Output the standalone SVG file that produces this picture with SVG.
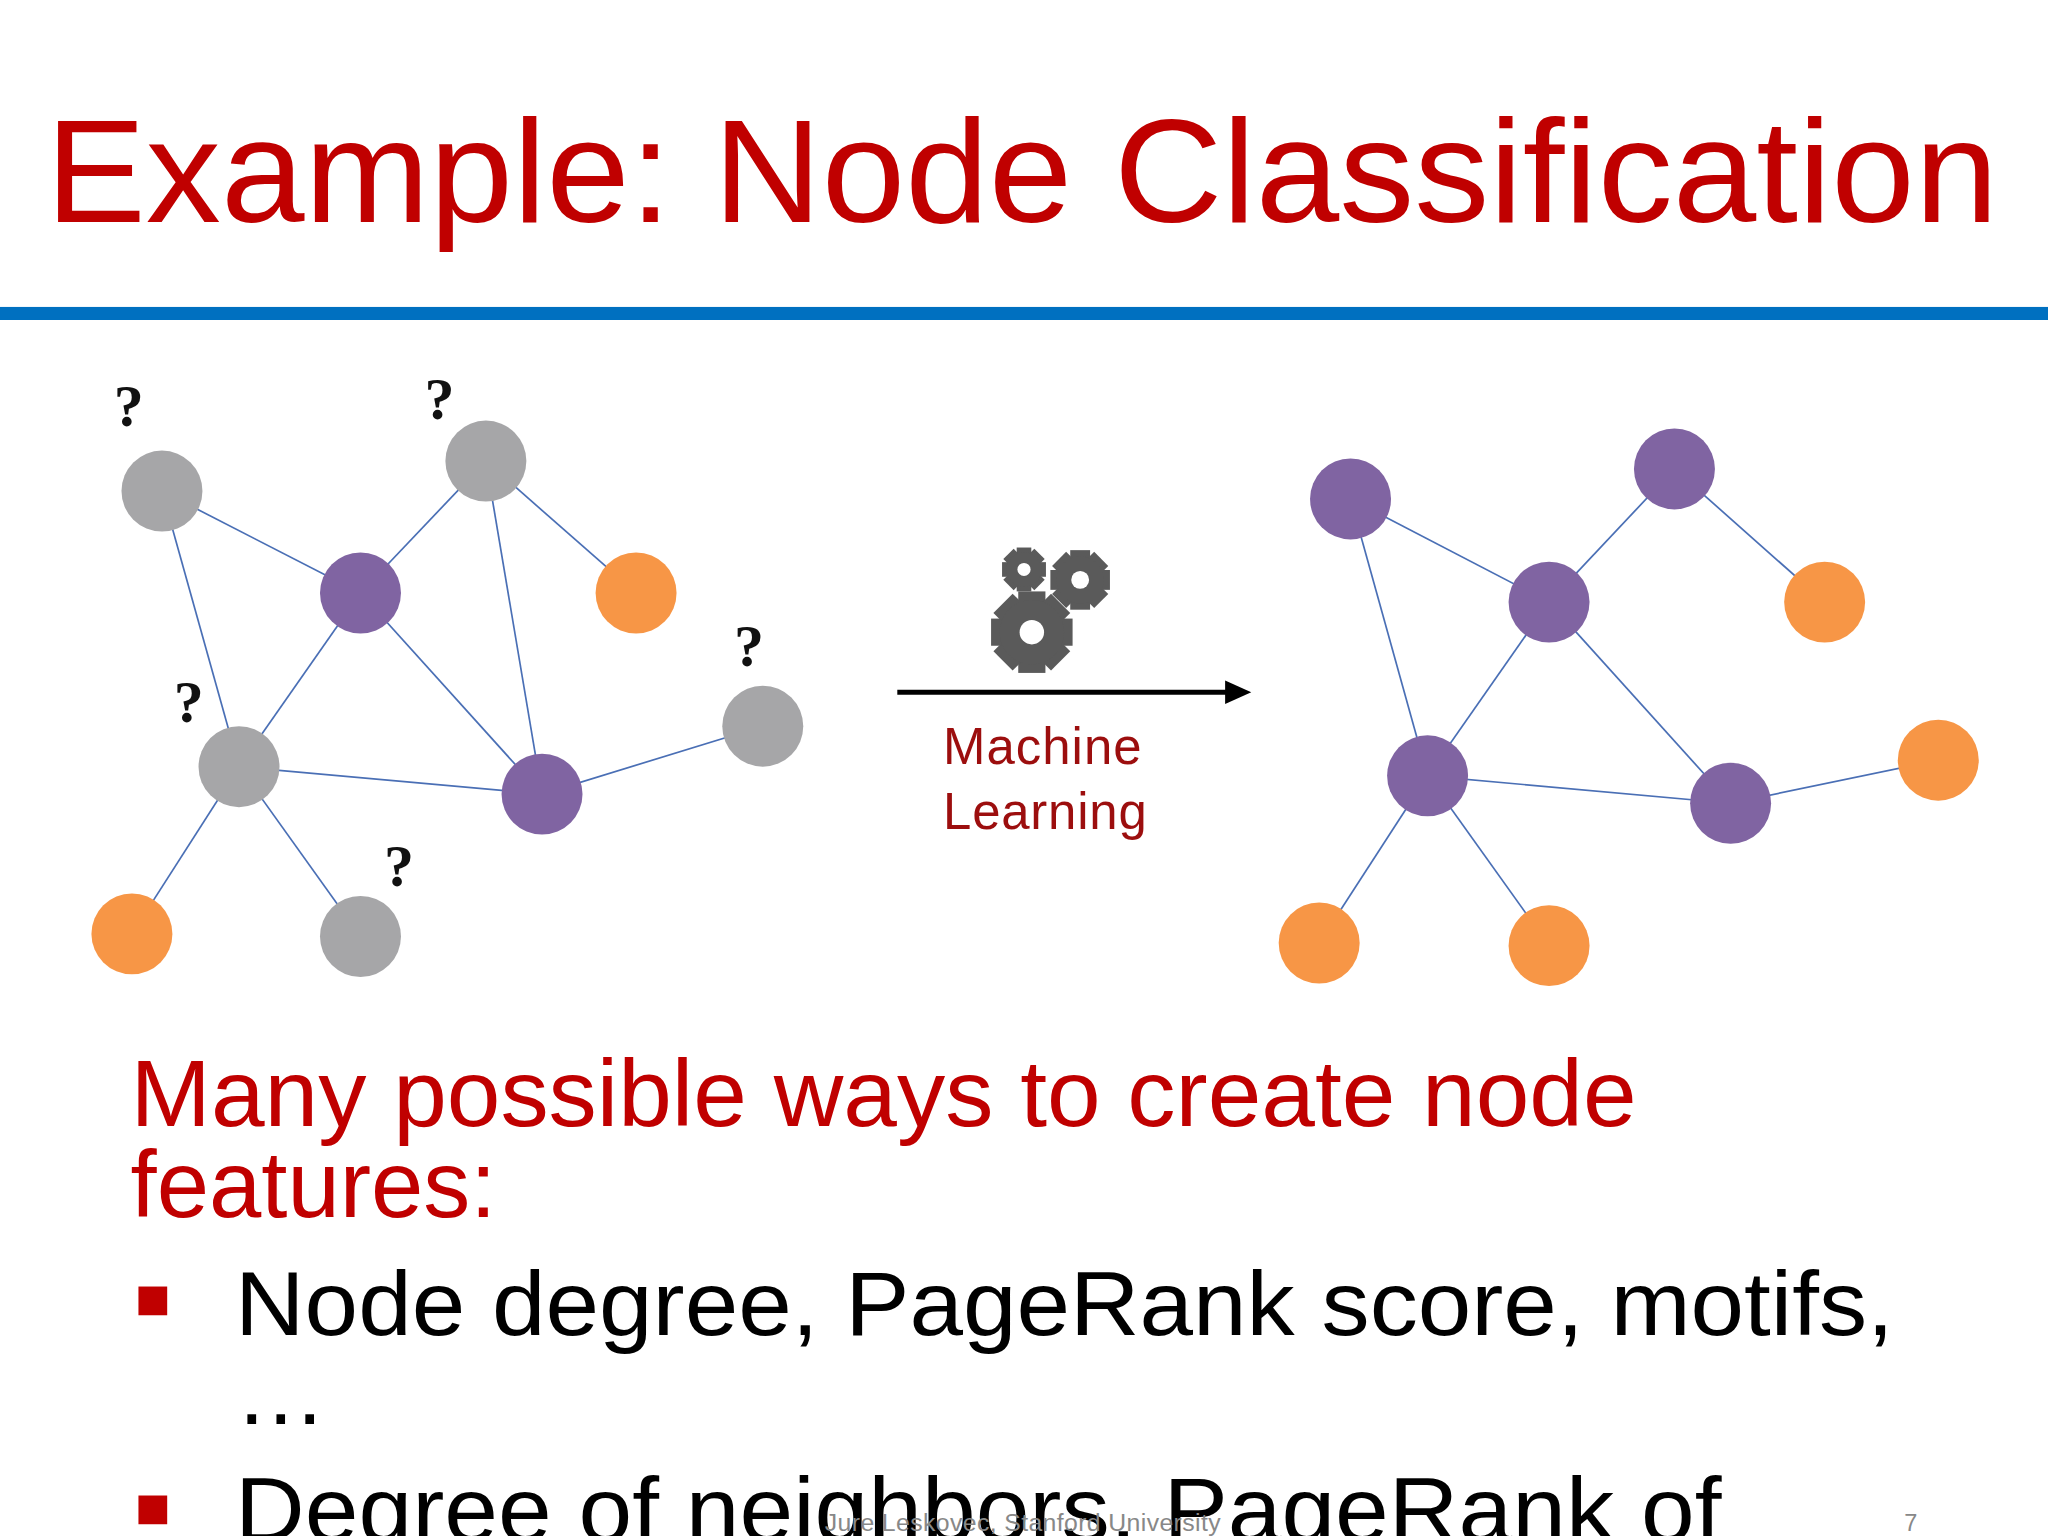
<svg xmlns="http://www.w3.org/2000/svg" width="2048" height="1536" viewBox="0 0 2048 1536">
<style>
.e{stroke:#4a6fb5;stroke-width:1.3;fill:none}
.g{fill:#a6a6a8}.p{fill:#8064a2}.o{fill:#f79646}
.q{font-family:"Liberation Serif",serif;font-weight:bold;font-size:46px;fill:#111}
.r{font-family:"Liberation Sans",Arial,sans-serif;fill:#c00000}
.m{font-family:"Liberation Sans",Arial,sans-serif;fill:#9c0e0e;font-size:39px}
.b{font-family:"Liberation Sans",Arial,sans-serif;fill:#000}
</style>
<defs>
<g id="gear">
<rect x="-4" y="-12" width="8" height="24" fill="#5a5a5a"/>
<rect x="-4" y="-12" width="8" height="24" fill="#5a5a5a" transform="rotate(45)"/>
<rect x="-4" y="-12" width="8" height="24" fill="#5a5a5a" transform="rotate(90)"/>
<rect x="-4" y="-12" width="8" height="24" fill="#5a5a5a" transform="rotate(135)"/>
<circle r="9.5" fill="#5a5a5a"/>
<circle r="3.6" fill="#fff"/>
</g>
</defs>
<rect width="2048" height="1536" fill="#fff"/>
<g transform="scale(1.30612)">
<text x="35" y="170" class="r" font-size="112" textLength="1495" lengthAdjust="spacingAndGlyphs">Example: Node Classification</text>
<rect x="0" y="235" width="1568" height="10" fill="#0070c0"/>
<g id="connectors">
<line class="e" x1="124" y1="376" x2="276" y2="454"/><line class="e" x1="124" y1="376" x2="183" y2="587"/>
<line class="e" x1="372" y1="353" x2="276" y2="454"/><line class="e" x1="372" y1="353" x2="415" y2="608"/>
<line class="e" x1="372" y1="353" x2="487" y2="454"/><line class="e" x1="276" y1="454" x2="183" y2="587"/>
<line class="e" x1="276" y1="454" x2="415" y2="608"/><line class="e" x1="183" y1="587" x2="415" y2="608"/>
<line class="e" x1="415" y1="608" x2="584" y2="556"/><line class="e" x1="183" y1="587" x2="101" y2="715"/>
<line class="e" x1="183" y1="587" x2="276" y2="717"/>
<line class="e" x1="1034" y1="382" x2="1186" y2="461"/><line class="e" x1="1034" y1="382" x2="1093" y2="594"/>
<line class="e" x1="1282" y1="359" x2="1186" y2="461"/><line class="e" x1="1282" y1="359" x2="1397" y2="461"/>
<line class="e" x1="1186" y1="461" x2="1093" y2="594"/><line class="e" x1="1186" y1="461" x2="1325" y2="615"/>
<line class="e" x1="1093" y1="594" x2="1325" y2="615"/><line class="e" x1="1325" y1="615" x2="1484" y2="582"/>
<line class="e" x1="1093" y1="594" x2="1010" y2="722"/><line class="e" x1="1093" y1="594" x2="1186" y2="724"/>
<line x1="687" y1="530" x2="942" y2="530" stroke="#000" stroke-width="4"/>
<polygon points="958,530 938,521 938,539" fill="#000"/>
</g>
<g id="L1"><circle class="g" cx="124" cy="376" r="31"/></g>
<g id="L2"><circle class="g" cx="372" cy="353" r="31"/></g>
<g id="L3"><circle class="p" cx="276" cy="454" r="31"/></g>
<g id="L4"><circle class="o" cx="487" cy="454" r="31"/></g>
<g id="L5"><circle class="g" cx="584" cy="556" r="31"/></g>
<g id="L6"><circle class="g" cx="183" cy="587" r="31"/></g>
<g id="L7"><circle class="p" cx="415" cy="608" r="31"/></g>
<g id="L8"><circle class="o" cx="101" cy="715" r="31"/></g>
<g id="L9"><circle class="g" cx="276" cy="717" r="31"/></g>
<text class="q" x="87" y="326">?</text><text class="q" x="325" y="321">?</text>
<text class="q" x="562" y="510">?</text><text class="q" x="133" y="553">?</text>
<text class="q" x="294" y="678">?</text>
<g id="R1"><circle class="p" cx="1034" cy="382" r="31"/></g>
<g id="R2"><circle class="p" cx="1282" cy="359" r="31"/></g>
<g id="R3"><circle class="p" cx="1186" cy="461" r="31"/></g>
<g id="R4"><circle class="o" cx="1397" cy="461" r="31"/></g>
<g id="R5"><circle class="o" cx="1484" cy="582" r="31"/></g>
<g id="R6"><circle class="p" cx="1093" cy="594" r="31"/></g>
<g id="R7"><circle class="p" cx="1325" cy="615" r="31"/></g>
<g id="R8"><circle class="o" cx="1010" cy="722" r="31"/></g>
<g id="R9"><circle class="o" cx="1186" cy="724" r="31"/></g>
<g id="gears">
<use href="#gear" transform="translate(790,484) scale(2.6)"/>
<use href="#gear" transform="translate(784,436) scale(1.4)"/>
<use href="#gear" transform="translate(827,444) scale(1.9)"/>
</g>
<text class="m" x="722" y="585" textLength="152">Machine</text>
<text class="m" x="722" y="635" textLength="156">Learning</text>
<text class="r" x="100" y="862" font-size="72" textLength="1153" lengthAdjust="spacingAndGlyphs">Many possible ways to create node</text>
<text class="r" x="100" y="932" font-size="72">features:</text>
<rect x="106" y="985" width="22" height="22" fill="#c00000"/>
<text class="b" x="180" y="1022" font-size="70" textLength="1270" lengthAdjust="spacingAndGlyphs">Node degree, PageRank score, motifs,</text>
<text class="b" x="180" y="1090" font-size="70">…</text>
<rect x="106" y="1145" width="22" height="22" fill="#c00000"/>
<text class="b" x="180" y="1180" font-size="70" textLength="1138" lengthAdjust="spacingAndGlyphs">Degree of neighbors, PageRank of</text>
<text x="783" y="1172" font-family="Liberation Sans,Arial,sans-serif" font-size="19" fill="#888" text-anchor="middle" textLength="303">Jure Leskovec, Stanford University</text>
<text x="1463" y="1172" font-family="Liberation Sans,Arial,sans-serif" font-size="18" fill="#888" text-anchor="middle">7</text>
</g>
</svg>
